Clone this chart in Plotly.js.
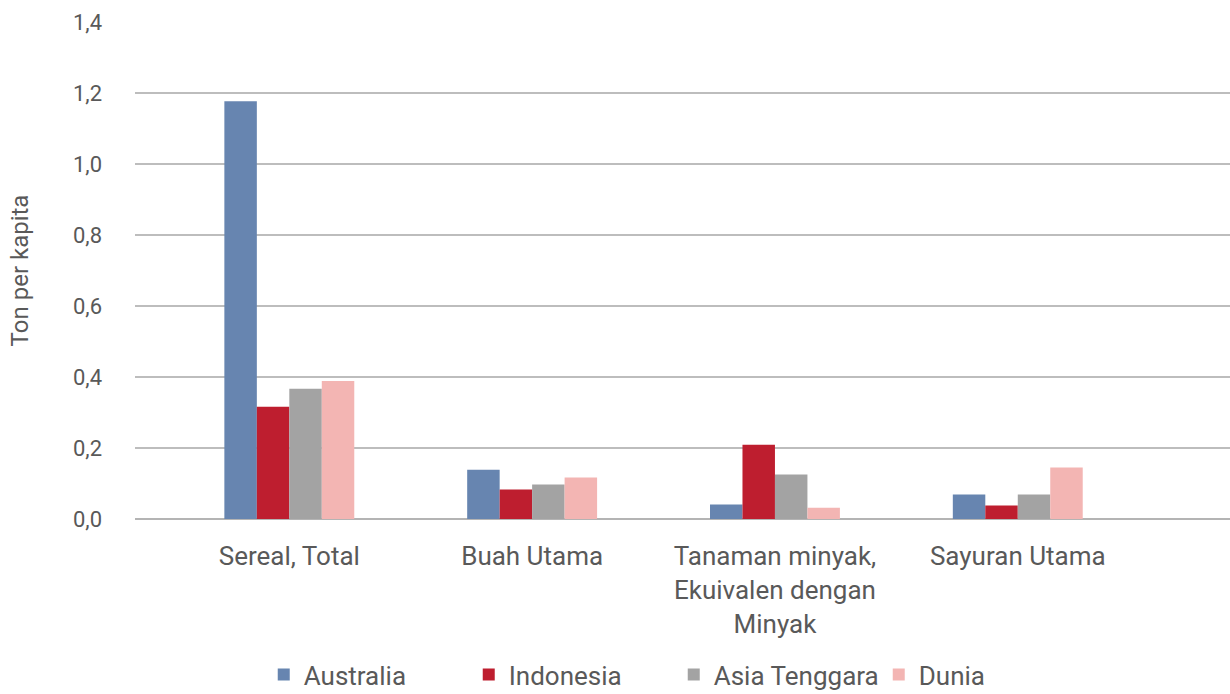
<!DOCTYPE html>
<html>
<head>
<meta charset="utf-8">
<script src="https://cdn.plot.ly/plotly-3.0.1.min.js"></script>
<style>html,body{margin:0;padding:0;background:#fff;}#chart{width:1230px;height:694px;}</style>
</head>
<body>
<div id="chart"></div>
<script>
const categories = ["Sereal, Total", "Buah Utama", "Tanaman minyak,<br>Ekuivalen dengan<br>Minyak", "Sayuran Utama"];
const seriesNames = ["Australia", "Indonesia", "Asia Tenggara", "Dunia"];
const australia = [1.177, 0.139, 0.041, 0.069];
const indonesia = [0.316, 0.083, 0.209, 0.038];
const asiaTenggara = [0.367, 0.097, 0.125, 0.069];
const dunia = [0.389, 0.117, 0.032, 0.145];
const yTickVals = [0, 0.2, 0.4, 0.6, 0.8, 1.0, 1.2, 1.4];

const colors = ["#6785B0", "#BE1E2F", "#A3A3A3", "#F3B5B3"];
const values = [australia, indonesia, asiaTenggara, dunia];
const FONT = "Roboto, 'Liberation Sans', Arial, sans-serif";
const TXT = "#595959";

const traces = values.map((v, i) => ({
  type: "bar",
  name: seriesNames[i],
  x: categories,
  y: v,
  marker: {color: colors[i], line: {width: 0}},
  hoverinfo: "x+y+name"
}));

const layout = {
  width: 1230,
  height: 694,
  margin: {l: 135, r: 0, t: 21.5, b: 174.5, pad: 0},
  paper_bgcolor: "#ffffff",
  plot_bgcolor: "#ffffff",
  separators: ",.",
  barmode: "group",
  bargap: 0.465,
  bargroupgap: 0,
  font: {family: FONT, color: TXT, size: 22},
  xaxis: {
    type: "category",
    range: [-0.6355, 3.874],
    showgrid: false,
    zeroline: false,
    showline: false,
    ticks: "",
    tickfont: {family: FONT, size: 26, color: TXT},
    ticklabelstandoff: 19,
    automargin: false,
    fixedrange: true
  },
  yaxis: {
    range: [0, 1.4],
    tickvals: yTickVals,
    tickformat: ".1f",
    showgrid: true,
    gridcolor: "#BDBDBD",
    gridwidth: 1.3,
    zeroline: true,
    zerolinecolor: "#B4B4B4",
    zerolinewidth: 2,
    showline: false,
    ticks: "",
    tickfont: {family: FONT, size: 22, color: TXT},
    ticklabelstandoff: 32,
    automargin: false,
    title: {text: "Ton per kapita", font: {family: FONT, size: 24, color: TXT}, standoff: 37},
    fixedrange: true
  },
  showlegend: true,
  legend: {
    orientation: "h",
    xref: "paper",
    x: 0.492,
    xanchor: "center",
    yref: "container",
    y: 0.028,
    yanchor: "middle",
    font: {family: FONT, size: 26, color: TXT},
    itemwidth: 30,
    entrywidth: 160,
    entrywidthmode: "pixels",
    traceorder: "normal"
  }
};

Plotly.newPlot("chart", traces, layout, {displayModeBar: false, staticPlot: true});
</script>
</body>
</html>
